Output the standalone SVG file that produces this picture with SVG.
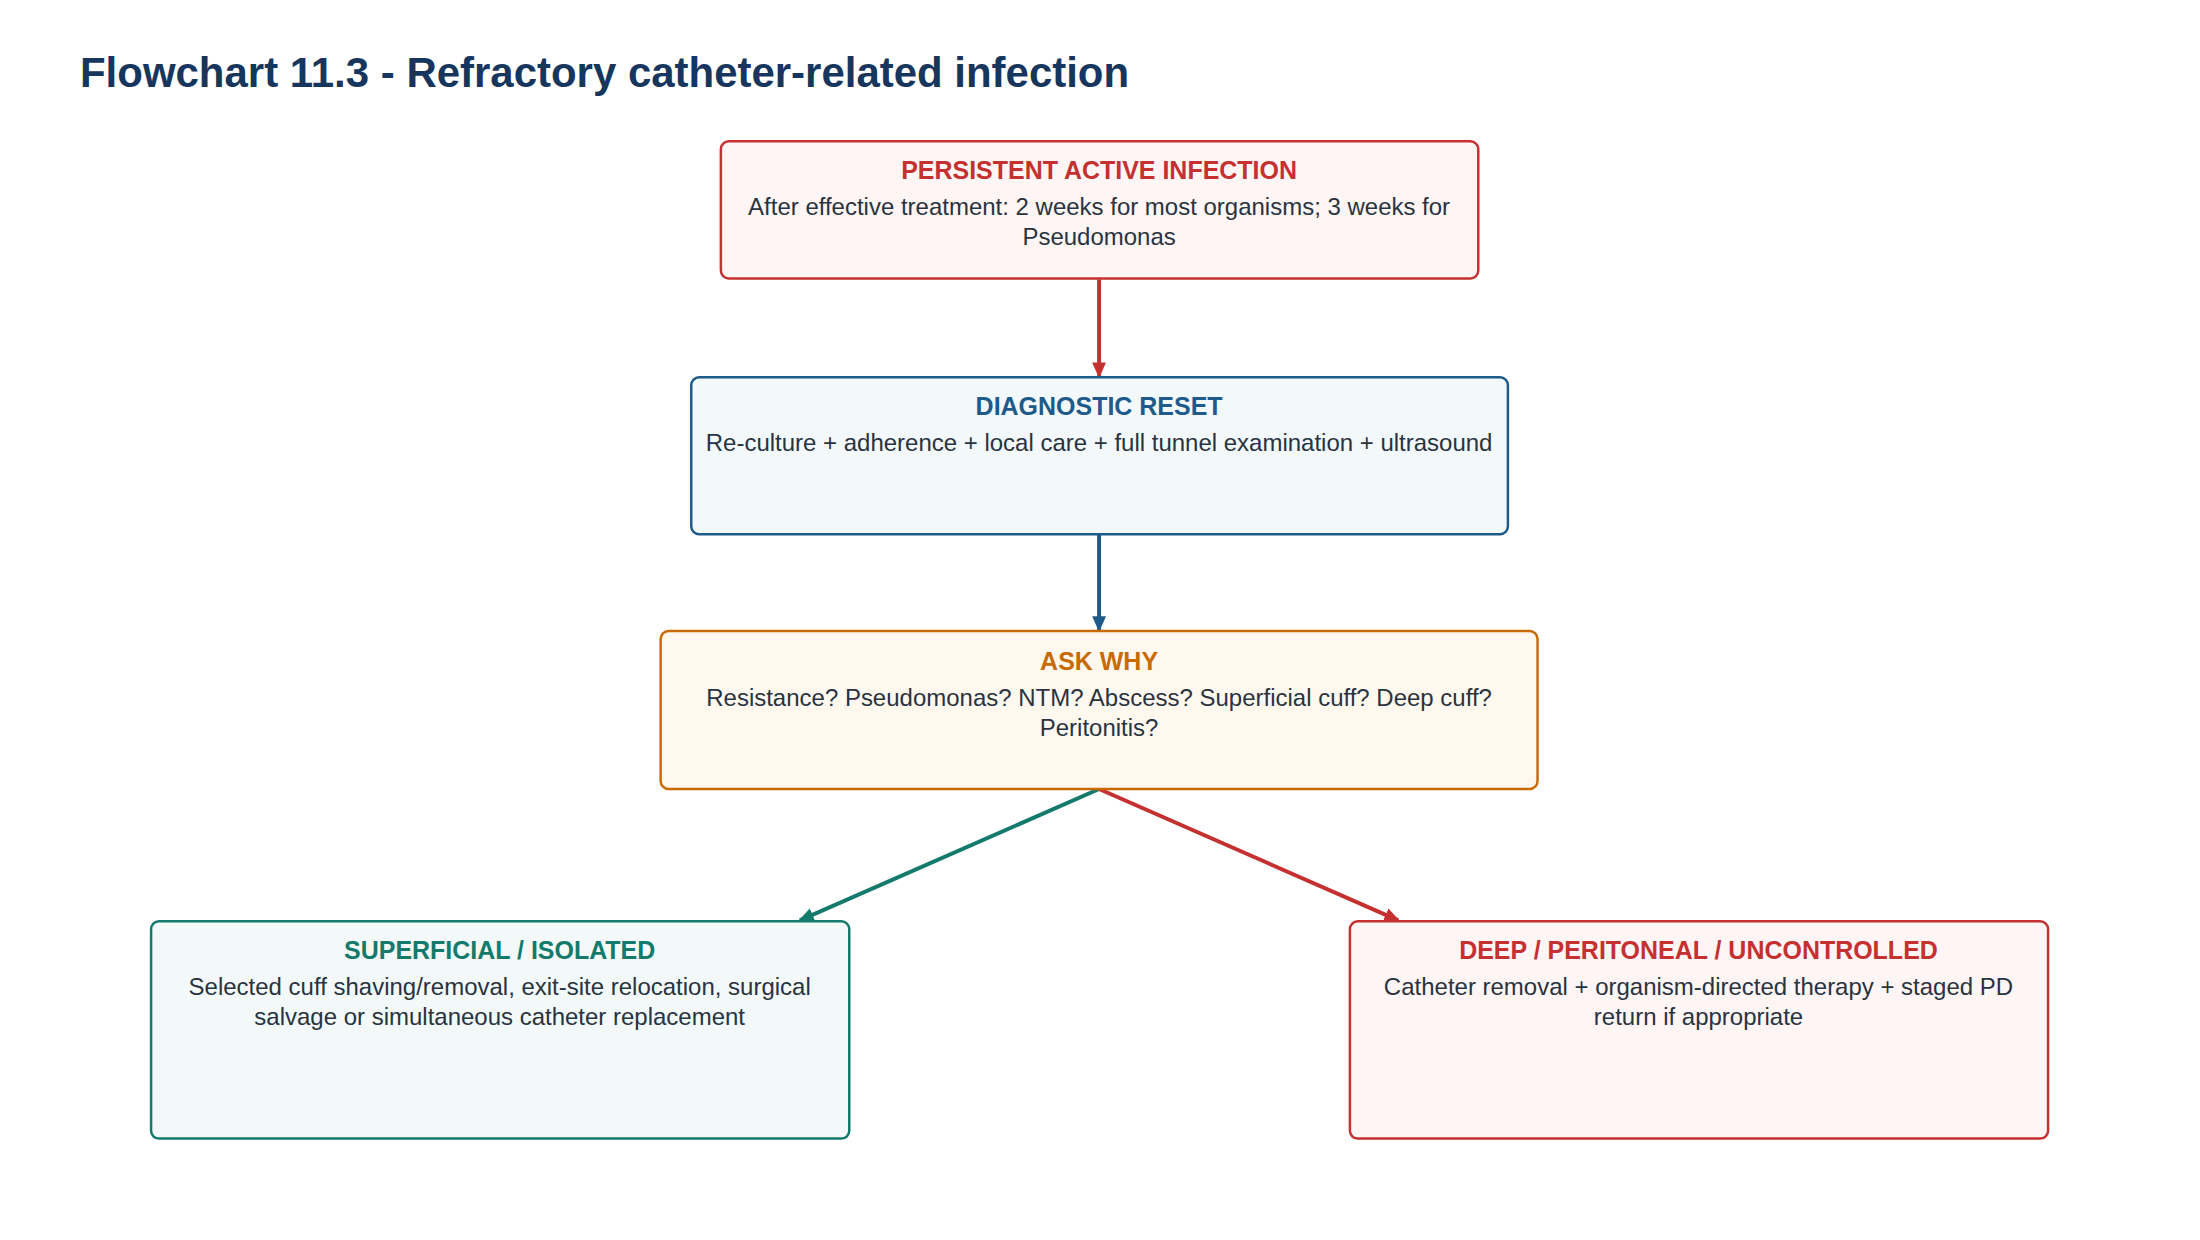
<svg xmlns="http://www.w3.org/2000/svg" width="2200" height="1240" viewBox="0 0 2200 1240">
<style>
text{font-family:"Liberation Sans",Arial,sans-serif;text-anchor:middle}
.t{font-size:25.3px;font-weight:bold}
.b{font-size:24.3px;fill:#2a3340}
rect{stroke-width:2.5}
</style>
<defs>
<marker id="mr" markerWidth="16" markerHeight="16" refX="14" refY="8" orient="auto" markerUnits="userSpaceOnUse" viewBox="0 0 16 16"><path d="M0,1L16,8L0,15z" fill="#c53030"/></marker>
<marker id="mb" markerWidth="16" markerHeight="16" refX="14" refY="8" orient="auto" markerUnits="userSpaceOnUse" viewBox="0 0 16 16"><path d="M0,1L16,8L0,15z" fill="#1e5a8a"/></marker>
<marker id="mg" markerWidth="16" markerHeight="16" refX="14" refY="8" orient="auto" markerUnits="userSpaceOnUse" viewBox="0 0 16 16"><path d="M0,1L16,8L0,15z" fill="#137a6c"/></marker>
</defs>
<rect width="2200" height="1240" fill="#fff" stroke="none"/>
<g transform="scale(0.9875)">
<text x="81" y="88" style="text-anchor:start;font-size:42.5px;font-weight:bold;fill:#17365d">Flowchart 11.3 - Refractory catheter-related infection</text>
<g id="connectors" fill="none" stroke-width="4">
<line x1="1113" y1="283" x2="1113" y2="381" stroke="#c53030" marker-end="url(#mr)"/>
<line x1="1113" y1="541" x2="1113" y2="638" stroke="#1e5a8a" marker-end="url(#mb)"/>
<line x1="1113" y1="799" x2="810" y2="932" stroke="#137a6c" marker-end="url(#mg)"/>
<line x1="1113" y1="799" x2="1416" y2="932" stroke="#c53030" marker-end="url(#mr)"/>
</g>
<g id="n1"><rect x="730" y="143" width="767" height="139" rx="8" fill="#fff5f5" stroke="#c53030"/>
<text class="t" x="1113" y="181" fill="#c53030">PERSISTENT ACTIVE INFECTION</text>
<text class="b" x="1113" y="218">After effective treatment: 2 weeks for most organisms; 3 weeks for</text>
<text class="b" x="1113" y="248">Pseudomonas</text></g>
<g id="n2"><rect x="700" y="382" width="827" height="159" rx="8" fill="#f3f8fb" stroke="#1e5a8a"/>
<text class="t" x="1113" y="420" fill="#1e5a8a">DIAGNOSTIC RESET</text>
<text class="b" x="1113" y="457">Re-culture + adherence + local care + full tunnel examination + ultrasound</text></g>
<g id="n3"><rect x="669" y="639" width="888" height="160" rx="8" fill="#fff8ef" stroke="#c96a00"/>
<text class="t" x="1113" y="678" fill="#c96a00">ASK WHY</text>
<text class="b" x="1113" y="715">Resistance? Pseudomonas? NTM? Abscess? Superficial cuff? Deep cuff?</text>
<text class="b" x="1113" y="745">Peritonitis?</text></g>
<g id="n4"><rect x="153" y="933" width="707" height="220" rx="8" fill="#f3f9f8" stroke="#137a6c"/>
<text class="t" x="506" y="971" fill="#137a6c">SUPERFICIAL / ISOLATED</text>
<text class="b" x="506" y="1008">Selected cuff shaving/removal, exit-site relocation, surgical</text>
<text class="b" x="506" y="1038">salvage or simultaneous catheter replacement</text></g>
<g id="n5"><rect x="1367" y="933" width="707" height="220" rx="8" fill="#fff5f5" stroke="#c53030"/>
<text class="t" x="1720" y="971" fill="#c53030">DEEP / PERITONEAL / UNCONTROLLED</text>
<text class="b" x="1720" y="1008">Catheter removal + organism-directed therapy + staged PD</text>
<text class="b" x="1720" y="1038">return if appropriate</text></g>
</g>
</svg>
